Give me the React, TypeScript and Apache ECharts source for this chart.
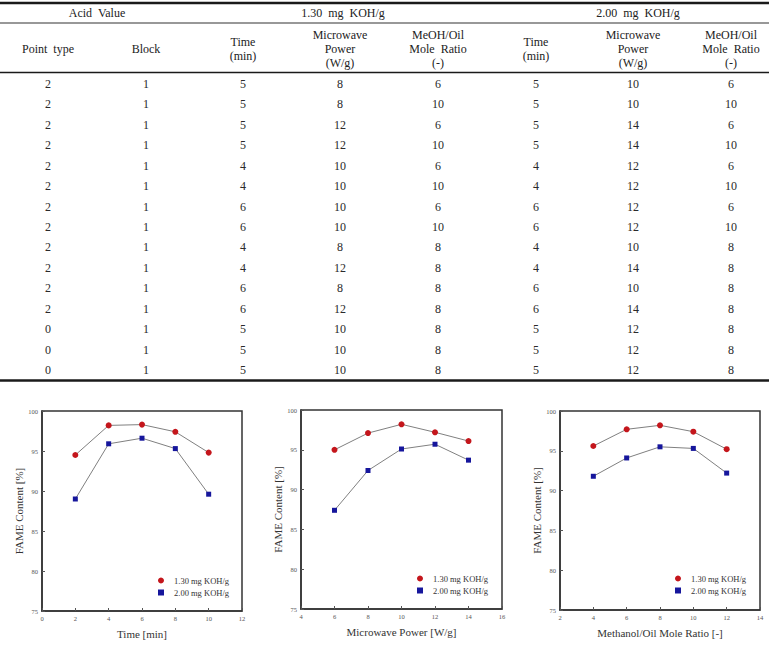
import React, { useEffect, useRef } from "react";
import * as echarts from "echarts";

const SERIF = "Liberation Serif, Times New Roman, DejaVu Serif, serif";

// ---------- Table content ----------
const groupHeads = ["Acid  Value", "1.30  mg  KOH/g", "2.00  mg  KOH/g"];
const columnHeads = [
  "Point  type",
  "Block",
  "Time\n(min)",
  "Microwave\nPower\n(W/g)",
  "MeOH/Oil\nMole  Ratio\n(-)",
  "Time\n(min)",
  "Microwave\nPower\n(W/g)",
  "MeOH/Oil\nMole  Ratio\n(-)",
];
const tableRows = [
  [2, 1, 5, 8, 6, 5, 10, 6],
  [2, 1, 5, 8, 10, 5, 10, 10],
  [2, 1, 5, 12, 6, 5, 14, 6],
  [2, 1, 5, 12, 10, 5, 14, 10],
  [2, 1, 4, 10, 6, 4, 12, 6],
  [2, 1, 4, 10, 10, 4, 12, 10],
  [2, 1, 6, 10, 6, 6, 12, 6],
  [2, 1, 6, 10, 10, 6, 12, 10],
  [2, 1, 4, 8, 8, 4, 10, 8],
  [2, 1, 4, 12, 8, 4, 14, 8],
  [2, 1, 6, 8, 8, 6, 10, 8],
  [2, 1, 6, 12, 8, 6, 14, 8],
  [0, 1, 5, 10, 8, 5, 12, 8],
  [0, 1, 5, 10, 8, 5, 12, 8],
  [0, 1, 5, 10, 8, 5, 12, 8],
];

// ---------- Chart data ----------
const seriesNames = ["1.30 mg KOH/g", "2.00 mg KOH/g"];

const timeX = [2, 4, 6, 8, 10];
const timeLow = [94.5, 98.2, 98.3, 97.4, 94.8];
const timeHigh = [89.0, 95.9, 96.6, 95.3, 89.6];

const powerX = [6, 8, 10, 12, 14];
const powerLow = [95.0, 97.1, 98.2, 97.2, 96.1];
const powerHigh = [87.4, 92.4, 95.1, 95.7, 93.7];

const ratioX = [4, 6, 8, 10, 12];
const ratioLow = [95.6, 97.7, 98.2, 97.4, 95.2];
const ratioHigh = [91.8, 94.1, 95.5, 95.3, 92.2];

const xTitles = ["Time [min]", "Microwave Power [W/g]", "Methanol/Oil Mole Ratio [-]"];
const xRanges = [
  [0, 12],
  [4, 16],
  [2, 14],
];
const yTitle = "FAME Content [%]";

// ---------- layout ----------
const colX = [48, 146, 243, 340, 438, 536, 633, 731];
const groupX = [97, 343, 638];
const rowY0 = 84;
const rowStep = 20.43;

const grids = [
  { left: 42, top: 411, width: 200, height: 200 },
  { left: 301, top: 410, width: 201, height: 199 },
  { left: 560, top: 411, width: 200, height: 199 },
];
const yNameGaps = [16.5, 15.5, 16.5];
const legendPos = [
  { left: 158, top: 575 },
  { left: 417, top: 573 },
  { left: 675, top: 573 },
];

const RED = "#c4161c";
const BLUE = "#16169c";

function buildTableGraphics() {
  const els: any[] = [];
  const hline = (y: number, w: number, color = "#1a1a1a") =>
    els.push({
      type: "line",
      shape: { x1: 0, y1: y, x2: 769, y2: y },
      style: { stroke: color, lineWidth: w },
      silent: true,
    });
  hline(3, 2.5);
  hline(23, 1.2, "#333");
  hline(72.5, 1.6);
  hline(380.5, 2.5);

  const txt = (s: string, x: number, y: number, color = "#222") =>
    els.push({
      type: "text",
      x,
      y,
      silent: true,
      style: {
        text: s,
        fill: color,
        fontFamily: SERIF,
        fontSize: 12,
        align: "center",
        verticalAlign: "middle",
        lineHeight: 14,
      },
    });

  groupHeads.forEach((g, i) => txt(g, groupX[i], 13));
  columnHeads.forEach((h, i) => txt(h, colX[i], 49));
  tableRows.forEach((row, r) =>
    row.forEach((v, c) => txt(String(v), colX[c], rowY0 + r * rowStep, "#2a2a2a"))
  );
  return els;
}

export default function App() {
  const ref = useRef<HTMLDivElement>(null);

  useEffect(() => {
    document.body.style.margin = "0";
    if (!ref.current) return;
    const chart = echarts.init(ref.current, undefined, { renderer: "svg" });

    const lows = [timeLow, powerLow, ratioLow];
    const highs = [timeHigh, powerHigh, ratioHigh];
    const xs = [timeX, powerX, ratioX];

    const axisCommon = {
      axisLine: { show: true, onZero: false, lineStyle: { color: "#333", width: 1.5 } },
      axisTick: { show: true, inside: true, length: 3, lineStyle: { color: "#555", width: 1 } },
      axisLabel: { fontSize: 6.5, color: "#555", fontFamily: SERIF, margin: 4 },
      splitLine: { show: false },
      nameTextStyle: { fontSize: 11, color: "#333", fontFamily: SERIF },
    };

    const series: any[] = [];
    for (let i = 0; i < 3; i++) {
      series.push({
        name: seriesNames[0],
        type: "line",
        xAxisIndex: i,
        yAxisIndex: i,
        data: xs[i].map((x, k) => [x, lows[i][k]]),
        symbol: "circle",
        symbolSize: 6,
        itemStyle: { color: RED },
        lineStyle: { color: "#808080", width: 1 },
        z: 3,
      });
      series.push({
        name: seriesNames[1],
        type: "line",
        xAxisIndex: i,
        yAxisIndex: i,
        data: xs[i].map((x, k) => [x, highs[i][k]]),
        symbol: "rect",
        symbolSize: 5,
        itemStyle: { color: BLUE },
        lineStyle: { color: "#808080", width: 1 },
        z: 3,
      });
    }

    chart.setOption({
      animation: false,
      backgroundColor: "#ffffff",
      textStyle: { fontFamily: SERIF },
      grid: grids.map((g) => ({
        ...g,
        show: true,
        borderColor: "#333",
        borderWidth: 1.5,
        backgroundColor: "transparent",
        containLabel: false,
      })),
      xAxis: grids.map((_, i) => ({
        type: "value",
        gridIndex: i,
        min: xRanges[i][0],
        max: xRanges[i][1],
        interval: 2,
        name: xTitles[i],
        nameLocation: "middle",
        nameGap: 17,
        ...axisCommon,
      })),
      yAxis: grids.map((_, i) => ({
        type: "value",
        gridIndex: i,
        min: 75,
        max: 100,
        interval: 5,
        name: yTitle,
        nameLocation: "middle",
        nameGap: yNameGaps[i],
        ...axisCommon,
      })),
      legend: legendPos.map((p) => ({
        ...p,
        orient: "vertical",
        itemWidth: 6,
        itemHeight: 6,
        itemGap: 1,
        padding: 0,
        selectedMode: false,
        data: [
          { name: seriesNames[0], icon: "circle" },
          { name: seriesNames[1], icon: "rect" },
        ],
        textStyle: {
          fontSize: 8.5,
          fontFamily: SERIF,
          color: "#333",
          lineHeight: 11,
          padding: [0, 0, 0, 5],
        },
      })),
      series,
      graphic: buildTableGraphics(),
    });

    return () => {
      chart.dispose();
    };
  }, []);

  return <div ref={ref} style={{ width: 769, height: 645 }} />;
}
